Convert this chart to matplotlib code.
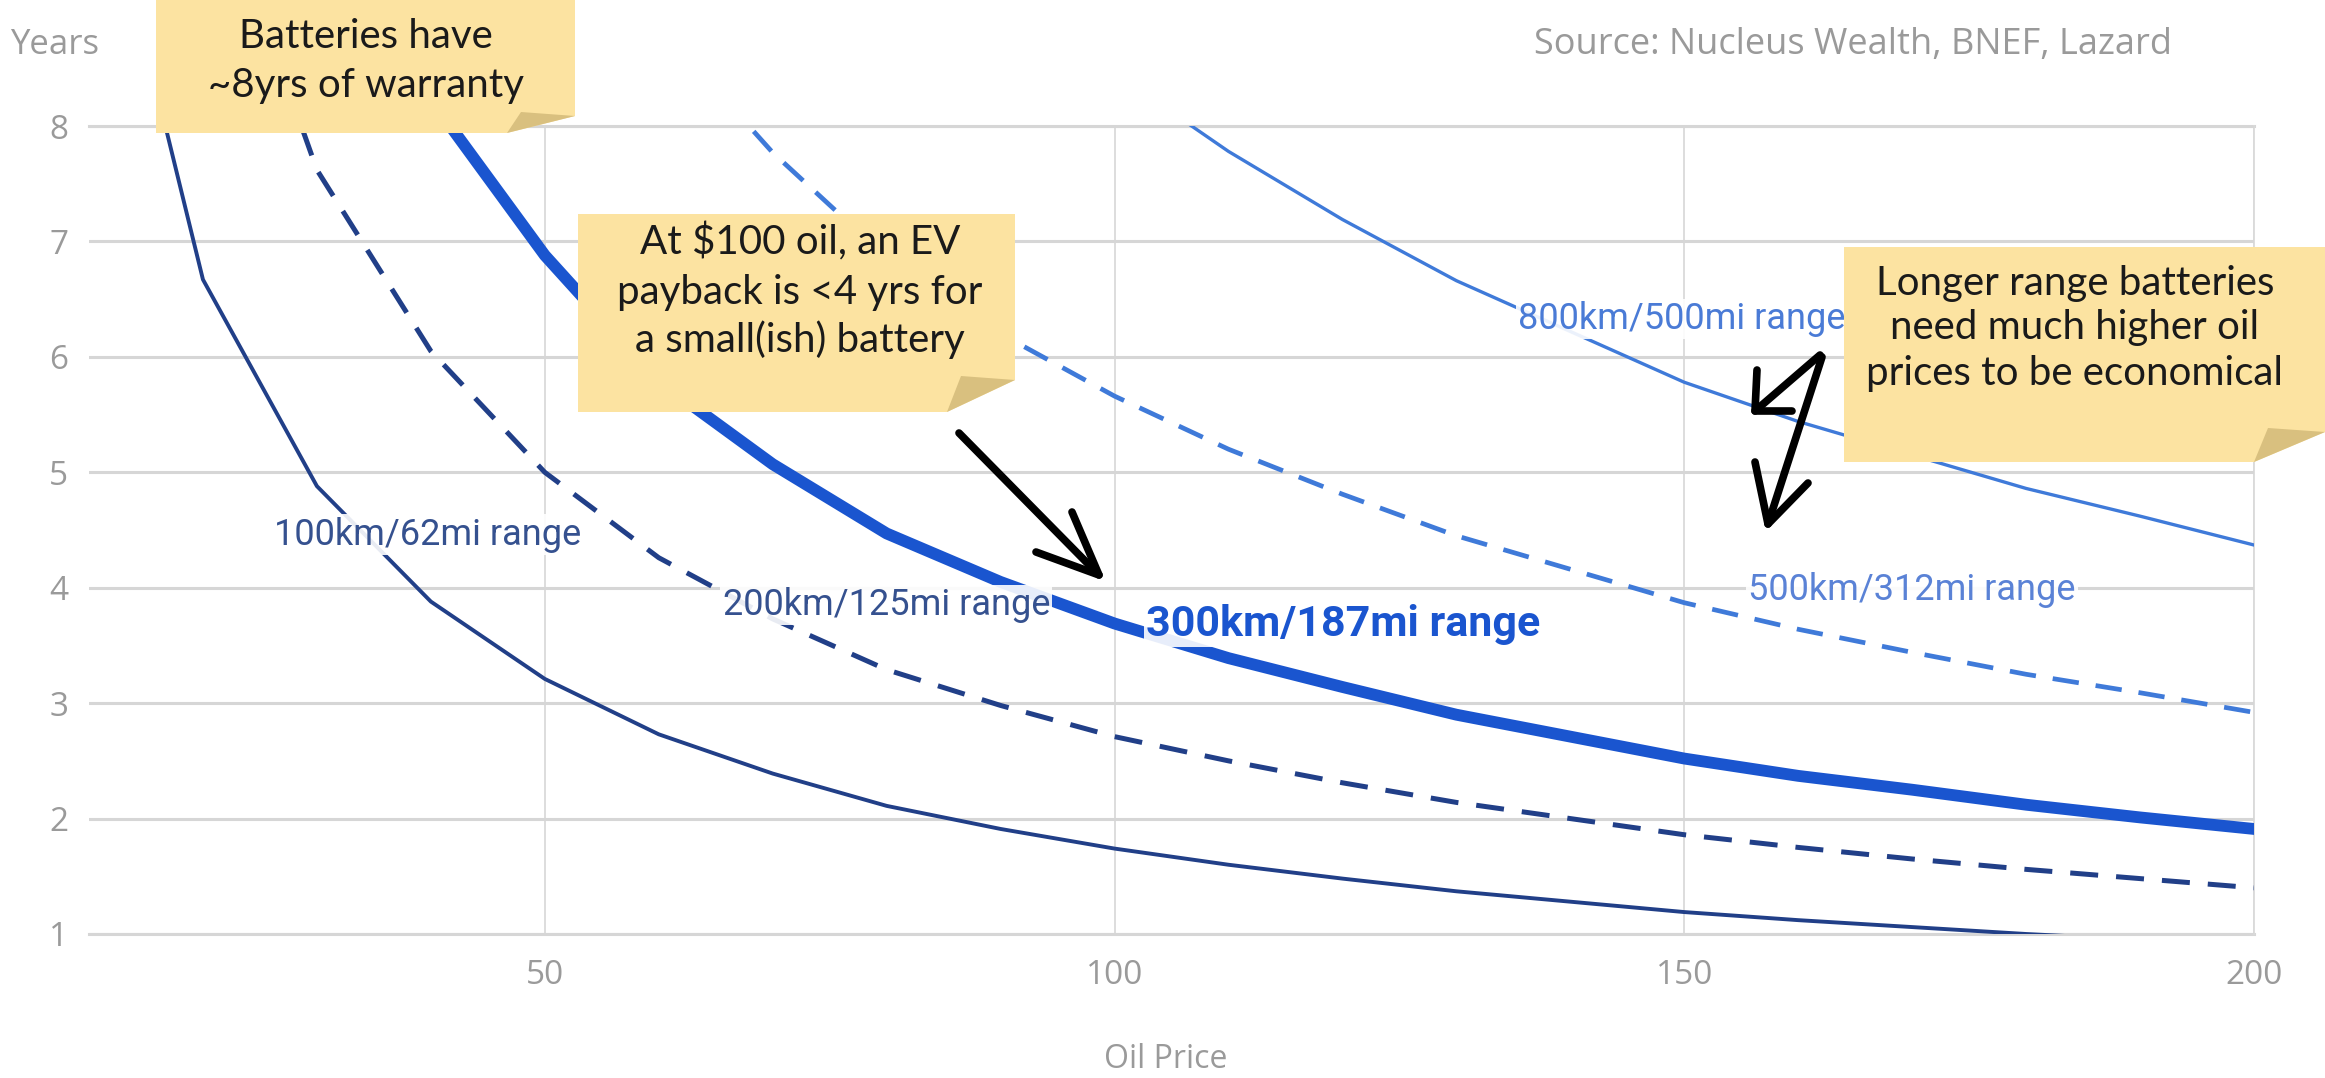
import matplotlib
matplotlib.use("Agg")
import matplotlib.pyplot as plt
from matplotlib.patches import Polygon
from matplotlib.lines import Line2D

plt.rcParams['font.family'] = ['Open Sans', 'DejaVu Sans']

# payback years vs oil price
oil_price = [10, 20, 30, 40, 50, 60, 70, 80, 90, 100,
             110, 120, 130, 140, 150, 160, 170, 180, 190, 200]
range_100km = [10.7, 6.67, 4.88, 3.88, 3.21, 2.73, 2.39, 2.11, 1.91, 1.74,
               1.60, 1.48, 1.37, 1.28, 1.19, 1.12, 1.06, 1.00, 0.95, 0.90]
range_200km = [16.7, 10.4, 7.62, 6.05, 5.00, 4.26, 3.73, 3.29, 2.98, 2.71,
               2.50, 2.31, 2.14, 2.00, 1.86, 1.75, 1.65, 1.56, 1.48, 1.40]
range_300km = [22.7, 14.1, 10.35, 8.23, 6.88, 5.79, 5.07, 4.47, 4.05, 3.69,
               3.39, 3.14, 2.90, 2.71, 2.52, 2.37, 2.25, 2.12, 2.01, 1.91]
range_500km = [34.8, 21.7, 15.9, 12.6, 10.4, 8.87, 7.77, 6.86, 6.20, 5.66,
               5.20, 4.81, 4.45, 4.16, 3.87, 3.64, 3.44, 3.25, 3.09, 2.92]
range_800km = [52.0, 32.4, 23.7, 18.9, 15.6, 13.3, 11.6, 10.25, 9.28, 8.46,
               7.78, 7.19, 6.66, 6.22, 5.78, 5.44, 5.15, 4.86, 4.62, 4.37]

x_ticks = [50, 100, 150, 200]
y_ticks = [1, 2, 3, 4, 5, 6, 7, 8]

W, H = 2325, 1078
fig = plt.figure(figsize=(W / 100, H / 100), dpi=100)
fig.patch.set_facecolor('white')
ax = fig.add_axes([89 / W, 1 - 934 / H, (2254 - 89) / W, (934 - 126) / H])


def fp(x, y):
    # pixel (from top-left) -> figure fraction
    return x / W, 1 - y / H


navy = '#213f88'
blue = '#1a55cf'
light = '#3f7ad9'

ax.plot(oil_price, range_100km, color=navy, lw=2.8, zorder=3)
ax.plot(oil_price, range_200km, color=navy, lw=3.6, dashes=(5.6, 3.6), zorder=3)
ax.plot(oil_price, range_300km, color=blue, lw=8.5, zorder=3)
ax.plot(oil_price, range_500km, color=light, lw=3.4, dashes=(5.6, 3.6), zorder=3)
ax.plot(oil_price, range_800km, color=light, lw=2.4, zorder=3)

ax.set_xlim(10, 200)
ax.set_ylim(1, 8)
ax.set_xticks(x_ticks)
ax.set_yticks(y_ticks)
for s in ax.spines.values():
    s.set_visible(False)
ax.grid(axis='y', color='#d6d6d6', lw=2.2, zorder=0)
ax.grid(axis='x', color='#dadada', lw=1.3, zorder=0)
for yv in (1, 8):
    ax.axhline(yv, color='#d6d6d6', lw=2.2, zorder=0, clip_on=False)
ax.axvline(200, color='#dadada', lw=1.3, zorder=0, clip_on=False)
ax.tick_params(length=0, labelsize=24, labelcolor='#9a9a9a')
ax.tick_params(axis='y', pad=15)
ax.tick_params(axis='x', pad=18)

fig.text(*fp(1166, 1060), 'Oil Price', ha='center', va='center', size=23, color='#9a9a9a')
fig.text(*fp(10, 45), 'Years', ha='left', va='center', size=25, color='#9a9a9a')
fig.text(*fp(2172, 45), 'Source: Nucleus Wealth, BNEF, Lazard', ha='right', va='center',
         size=26, color='#9a9a9a')

# series labels
lab_box = dict(facecolor='white', edgecolor='none', pad=1.5, alpha=0.9)
lab_font = ['Roboto', 'DejaVu Sans']
ax.text(26.2, 4.46, '100km/62mi range', color='#35518f', size=26, family=lab_font,
        va='center', ha='left', bbox=lab_box, zorder=4)
ax.text(65.6, 3.85, '200km/125mi range', color='#35518f', size=26, family=lab_font,
        va='center', ha='left', bbox=lab_box, zorder=4)
ax.text(102.8, 3.68, '300km/187mi range', color=blue, size=31, weight='bold',
        family=lab_font, va='center', ha='left', bbox=lab_box, zorder=4)
ax.text(155.6, 3.98, '500km/312mi range', color='#5a82d6', size=26, family=lab_font,
        va='center', ha='left', bbox=lab_box, zorder=4)
ax.text(135.4, 6.33, '800km/500mi range', color='#4a7bd6', size=26, family=lab_font,
        va='center', ha='left', bbox=lab_box, zorder=4)


# sticky notes
def note(x0, y0, x1, y1, fx, fy, lines, cx, ys):
    pts = [fp(x0, y0), fp(x1, y0), fp(x1, y1 - fy), fp(x1 - fx, y1), fp(x0, y1)]
    fig.add_artist(Polygon(pts, closed=True, facecolor='#fce3a1', edgecolor='none',
                           transform=fig.transFigure, zorder=5))
    fold = [fp(x1 - fx, y1), fp(x1 - fx + 14, y1 - fy - 4), fp(x1, y1 - fy)]
    fig.add_artist(Polygon(fold, closed=True, facecolor='#d9c07f', edgecolor='none',
                           transform=fig.transFigure, zorder=6))
    for t, yy in zip(lines, ys):
        fig.text(*fp(cx, yy), t, ha='center', va='center', size=29, color='#1a1a1a',
                 family=['Lato', 'DejaVu Sans'], zorder=7)


note(156, 0, 575, 133, 68, 17, ['Batteries have', '~8yrs of warranty'], 366, [36, 86])
note(578, 214, 1015, 412, 68, 32,
     ['At $100 oil, an EV', 'payback is <4 yrs for', 'a small(ish) battery'],
     800, [242, 292, 340])
note(1844, 247, 2325, 462, 71, 30,
     ['Longer range batteries', 'need much higher oil', 'prices to be economical'],
     2075, [283, 328, 373])


# hand-drawn arrows
def stroke(pts):
    xs = [p[0] / W for p in pts]
    ys = [1 - p[1] / H for p in pts]
    fig.add_artist(Line2D(xs, ys, color='black', lw=5.5, solid_capstyle='round',
                          solid_joinstyle='round', transform=fig.transFigure, zorder=8))


stroke([(959, 433), (1099, 575)])
stroke([(1072, 512), (1099, 575), (1036, 552)])
stroke([(1820, 355), (1755, 411)])
stroke([(1757, 370), (1755, 411), (1792, 411)])
stroke([(1822, 357), (1768, 524)])
stroke([(1755, 462), (1768, 524), (1808, 483)])

fig.savefig('out.png', dpi=100)
